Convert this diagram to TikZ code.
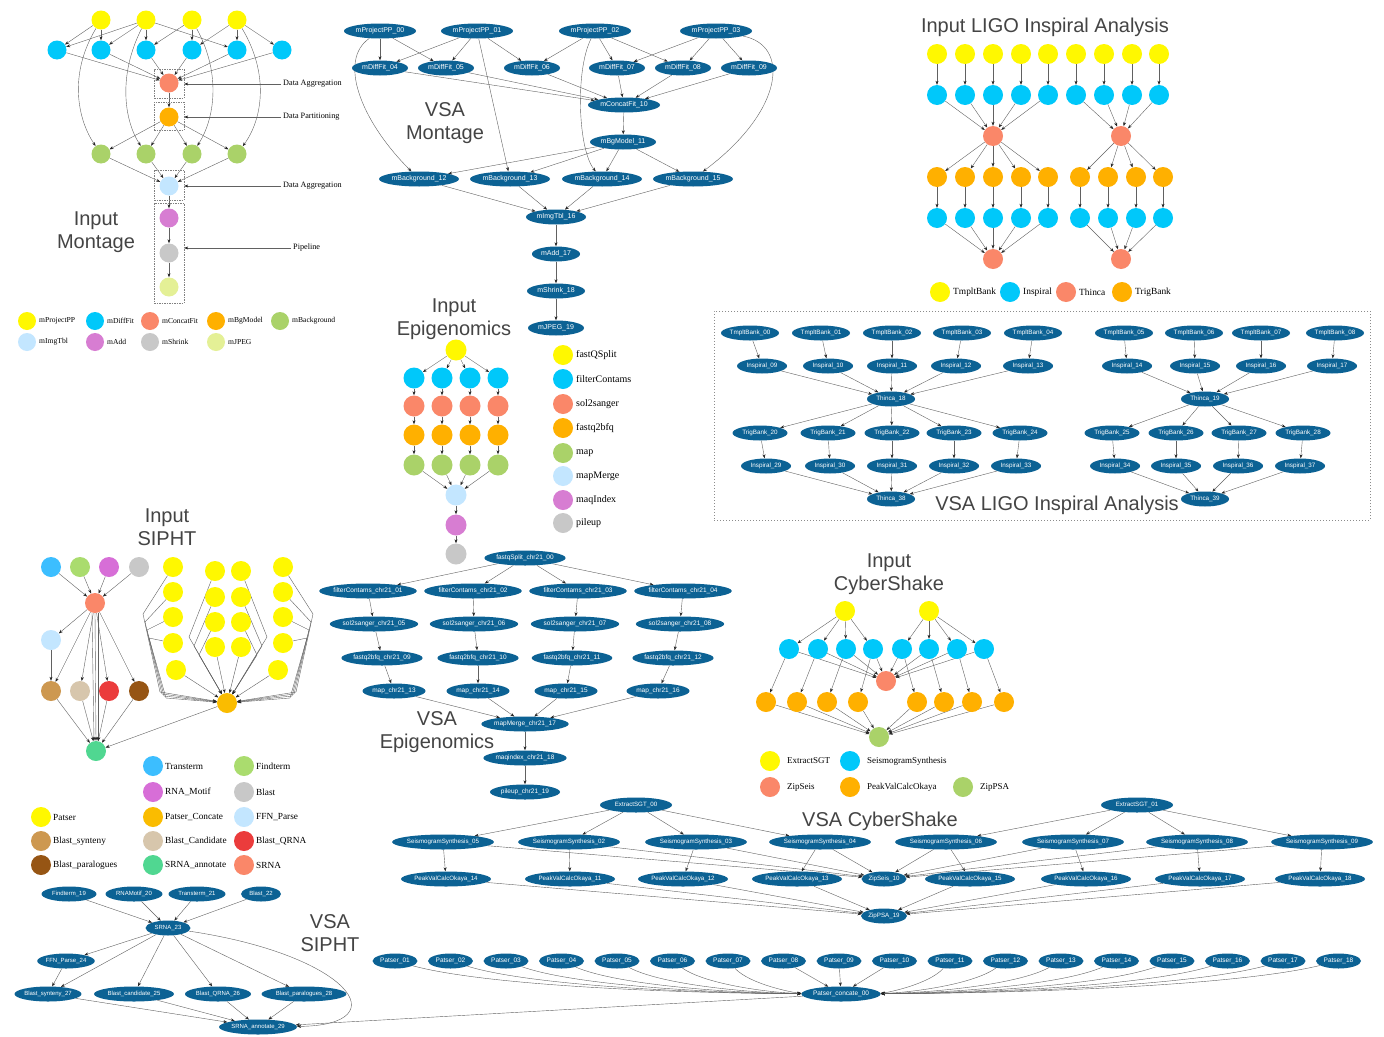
\documentclass[tikz,border=0pt]{standalone}
\usepackage{fontspec}
\setmainfont{Liberation Serif}
\setsansfont{Liberation Sans}
\usetikzlibrary{shapes.geometric,arrows.meta}
\pgfdeclarelayer{paper}
\pgfdeclarelayer{edges}
\pgfsetlayers{paper,edges,main}

% task colours
\definecolor{vsa}{RGB}{12,98,148}
\definecolor{cyel}{RGB}{255,248,0}
\definecolor{ccya}{RGB}{0,200,250}
\definecolor{csal}{RGB}{250,135,105}
\definecolor{cora}{RGB}{255,176,0}
\definecolor{cgrn}{RGB}{170,210,105}
\definecolor{clbl}{RGB}{195,230,255}
\definecolor{cmag}{RGB}{215,125,210}
\definecolor{cgry}{RGB}{200,200,200}
\definecolor{cjpg}{RGB}{228,240,150}
% SIPHT colours
\definecolor{sTr}{RGB}{60,190,255}
\definecolor{sFi}{RGB}{170,220,110}
\definecolor{sRm}{RGB}{215,110,215}
\definecolor{sBl}{RGB}{200,200,200}
\definecolor{sPc}{RGB}{250,188,0}
\definecolor{sFf}{RGB}{195,230,255}
\definecolor{sBs}{RGB}{205,152,80}
\definecolor{sBc}{RGB}{215,198,172}
\definecolor{sBq}{RGB}{235,60,60}
\definecolor{sBp}{RGB}{150,85,20}
\definecolor{sSa}{RGB}{80,215,145}
\definecolor{sSr}{RGB}{250,135,105}
\definecolor{ttlgray}{RGB}{68,68,68}

\tikzset{
  ball/.style={circle,inner sep=0pt,minimum size=#1},
  job/.style={ellipse,fill=vsa,text=white,inner sep=0pt,minimum height=15pt,
              font=\sffamily\fontsize{6.5}{6.5}\selectfont},
  jm/.style={job,font=\sffamily\fontsize{7}{7}\selectfont},
  jl/.style={job,font=\sffamily\fontsize{6.3}{6.3}\selectfont},
  jc/.style={job,font=\sffamily\fontsize{6.2}{6.2}\selectfont},
  js/.style={job,font=\sffamily\fontsize{6}{6}\selectfont},
  ed/.style={draw=black!62,line width=0.4pt,-{Stealth[length=4pt,width=3pt,color=black!85]}},
  lg/.style={anchor=west,inner sep=0pt,font=\fontsize{#1}{#1}\selectfont},
  ttl/.style={align=center,text=ttlgray,inner sep=0pt,font=\sffamily\fontsize{20}{23}\selectfont},
  dbox/.style={draw=black!50,dash pattern=on 1.5pt off 1pt,line width=0.4pt,inner sep=0pt,minimum width=30pt},
}

\begin{document}
\begin{tikzpicture}[x=1pt,y=-1pt]
\useasboundingbox (0,0) rectangle (1384,1036);
\begin{pgfonlayer}{paper}
  \fill[white] (0,0) rectangle (1384,1036);
\end{pgfonlayer}

% ================= Input Montage =================
\foreach \x [count=\i] in {101,146,192,237} \node[ball=19pt,fill=cyel] (imy\i) at (\x,20) {};
\foreach \x [count=\i] in {57,101,146,192,237,282} \node[ball=19pt,fill=ccya] (imc\i) at (\x,50) {};
\node[ball=19pt,fill=csal] (ims) at (169,83) {};
\node[ball=19pt,fill=cora] (imo) at (169,117) {};
\foreach \x [count=\i] in {101,146,192,237} \node[ball=19pt,fill=cgrn] (img\i) at (\x,154) {};
\node[ball=19pt,fill=clbl] (iml) at (169,186) {};
\node[ball=19pt,fill=cmag] (imm) at (169,218) {};
\node[ball=19pt,fill=cgry] (imr) at (169,253) {};
\node[ball=19pt,fill=cjpg] (imj) at (169,287) {};
\node[dbox,minimum height=29pt] (bx1) at (169,83.5) {};
\node[dbox,minimum height=28pt] (bx2) at (169,116) {};
\node[dbox,minimum height=30pt] (bx3) at (169,185) {};
\node[dbox,minimum height=100pt] (bx4) at (169,253) {};
\node[lg=8.2] (an1) at (283,84) {Data Aggregation};
\node[lg=8.2] (an2) at (283,117) {Data Partitioning};
\node[lg=8.2] (an3) at (283,186) {Data Aggregation};
\node[lg=8.2] (an4) at (293,248) {Pipeline};
\node[ttl] (imt) at (96,232) {Input\\Montage};
\foreach \c/\x/\y/\lab [count=\i] in {cyel/27/321/mProjectPP,ccya/95/321/mDiffFit,csal/150/321/mConcatFit,
    cora/216/321/mBgModel,cgrn/280/321/mBackground,clbl/27/342/mImgTbl,cmag/95/342/mAdd,
    cgry/150/342/mShrink,cjpg/216/342/mJPEG}
  {\node[ball=18pt,fill=\c] (imk\i) at (\x,\y) {};
   \node[lg=7.6] (imkt\i) at (\x+12,\y) {\lab};}
\begin{pgfonlayer}{edges}
  \foreach \a/\b in {1/1,1/2,2/1,2/2,2/3,2/5,3/3,3/4,4/4,4/5,4/6} \draw[ed] (imy\a) -- (imc\b);
  \foreach \b in {1,...,6} \draw[ed] (imc\b) -- (ims);
  \draw[ed] (ims) -- (imo);
  \foreach \b in {1,...,4} {\draw[ed] (imo) -- (img\b); \draw[ed] (img\b) -- (iml);}
  \draw[ed] (iml) -- (imm);
  \draw[ed] (imm) -- (imr);
  \draw[ed] (imr) -- (imj);
  \draw[ed] (imy1) .. controls (68,75) and (78,120) .. (img1);
  \draw[ed] (imy2) .. controls (118,75) and (124,120) .. (img2);
  \draw[ed] (imy3) .. controls (222,75) and (214,120) .. (img3);
  \draw[ed] (imy4) .. controls (270,75) and (262,120) .. (img4);
  \draw[ed] ([xshift=-2pt]an1.west) -- (an1.west -| bx1.east);
  \draw[ed] ([xshift=-2pt]an2.west) -- (an2.west -| bx2.east);
  \draw[ed] ([xshift=-2pt]an3.west) -- (an3.west -| bx3.east);
  \draw[ed] ([xshift=-2pt]an4.west) -- (an4.west -| bx4.east);
\end{pgfonlayer}

% ================= VSA Montage =================
\node[jm,minimum width=72pt] (pp0) at (380,31) {mProjectPP\_00};
\node[jm,minimum width=72pt] (pp1) at (477,31) {mProjectPP\_01};
\node[jm,minimum width=72pt] (pp2) at (595,31) {mProjectPP\_02};
\node[jm,minimum width=72pt] (pp3) at (716,31) {mProjectPP\_03};
\foreach \x/\n in {380/4,446/5,532/6,617/7,683/8,749/9}
  \node[jm,minimum width=56pt] (df\n) at (\x,68) {mDiffFit\_0\n};
\node[jm,minimum width=72pt] (cf) at (624,105) {mConcatFit\_10};
\node[jm,minimum width=66pt] (bg) at (623,142) {mBgModel\_11};
\foreach \x/\n in {419/12,510/13,602/14,693/15}
  \node[jm,minimum width=80pt] (bk\n) at (\x,179) {mBackground\_\n};
\node[jm,minimum width=60pt] (it) at (556,217) {mImgTbl\_16};
\node[jm,minimum width=48pt] (ad) at (556,254) {mAdd\_17};
\node[jm,minimum width=58pt] (sh) at (556,291) {mShrink\_18};
\node[jm,minimum width=56pt] (jp) at (556,328) {mJPEG\_19};
\node[ttl] (vmt) at (445,123) {VSA\\Montage};
\begin{pgfonlayer}{edges}
  \foreach \a/\b in {0/4,0/5,1/4,1/5,1/6,2/6,2/7,2/8,3/7,3/8,3/9} \draw[ed] (pp\a) -- (df\b);
  \foreach \b in {4,...,9} \draw[ed] (df\b) -- (cf);
  \draw[ed] (cf) -- (bg);
  \foreach \b in {12,...,15} {\draw[ed] (bg) -- (bk\b); \draw[ed] (bk\b) -- (it);}
  \draw[ed] (it) -- (ad);
  \draw[ed] (ad) -- (sh);
  \draw[ed] (sh) -- (jp);
  \draw[ed] (pp0) .. controls (338,60) and (360,120) .. (bk12);
  \draw[ed] (pp1) -- (bk13);
  \draw[ed] (pp2) .. controls (575,70) and (578,150) .. (bk14);
  \draw[ed] (pp3) .. controls (790,45) and (785,110) .. (bk15);
\end{pgfonlayer}

% ================= Input LIGO =================
\node[ttl] (lti) at (1045,27) {Input LIGO Inspiral Analysis};
\foreach \x [count=\i] in {937,965,993,1021,1048,1076,1104,1132,1159}
  {\node[ball=20pt,fill=cyel] (ly\i) at (\x,54) {};
   \node[ball=20pt,fill=ccya] (lc\i) at (\x,95) {};}
\node[ball=20pt,fill=csal] (lt1) at (993,136) {};
\node[ball=20pt,fill=csal] (lt2) at (1121,136) {};
\foreach \x [count=\i] in {937,965,993,1021,1048,1080,1108,1136,1163}
  {\node[ball=20pt,fill=cora] (lo\i) at (\x,177) {};
   \node[ball=20pt,fill=ccya] (ld\i) at (\x,218) {};}
\node[ball=20pt,fill=csal] (lt3) at (993,259) {};
\node[ball=20pt,fill=csal] (lt4) at (1121,259) {};
\foreach \c/\x/\lab [count=\i] in {cyel/940/TmpltBank,ccya/1010/Inspiral,csal/1066/Thinca,cora/1122/TrigBank}
  {\node[ball=20pt,fill=\c] (lk\i) at (\x,292) {};
   \node[lg=9.4] (lkt\i) at (\x+13,292) {\lab};}
\begin{pgfonlayer}{edges}
  \foreach \i in {1,...,9} {\draw[ed] (ly\i) -- (lc\i); \draw[ed] (lo\i) -- (ld\i);}
  \foreach \i in {1,...,5} {\draw[ed] (lc\i) -- (lt1); \draw[ed] (lt1) -- (lo\i); \draw[ed] (ld\i) -- (lt3);}
  \foreach \i in {6,...,9} {\draw[ed] (lc\i) -- (lt2); \draw[ed] (lt2) -- (lo\i); \draw[ed] (ld\i) -- (lt4);}
\end{pgfonlayer}

% ================= VSA LIGO =================
\node[draw=black!45,dash pattern=on 1.2pt off 1.8pt,line width=0.5pt,inner sep=0pt,
      minimum width=656pt,minimum height=209pt] (lbox) at (1042,415.5) {};
\foreach \x/\lab [count=\i] in {750/00,821/01,892/02,962/03,1033/04,1124/05,1194/06,1261/07,1335/08}
  \node[jl,minimum width=58pt] (tb\i) at (\x,333) {TmpltBank\_\lab};
\foreach \x/\lab [count=\i] in {762/09,828/10,892/11,956/12,1028/13,1127/14,1195/15,1261/16,1332/17}
  \node[jl,minimum width=50pt] (li\i) at (\x,366) {Inspiral\_\lab};
\node[jl,minimum width=48pt] (th18) at (891,399) {Thinca\_18};
\node[jl,minimum width=48pt] (th19) at (1205,399) {Thinca\_19};
\foreach \x/\lab [count=\i] in {760/20,828/21,892/22,954/23,1020/24,1112/25,1176/26,1239/27,1303/28}
  \node[jl,minimum width=55pt] (tg\i) at (\x,433) {TrigBank\_\lab};
\foreach \x/\lab [count=\i] in {766/29,830/30,892/31,954/32,1016/33,1115/34,1176/35,1238/36,1300/37}
  \node[jl,minimum width=50pt] (lj\i) at (\x,466) {Inspiral\_\lab};
\node[jl,minimum width=48pt] (th38) at (891,499) {Thinca\_38};
\node[jl,minimum width=48pt] (th39) at (1205,499) {Thinca\_39};
\node[ttl] (vlt) at (1057,505) {VSA LIGO Inspiral Analysis};
\begin{pgfonlayer}{edges}
  \foreach \i in {1,...,9} {\draw[ed] (tb\i) -- (li\i); \draw[ed] (tg\i) -- (lj\i);}
  \foreach \i in {1,...,5} {\draw[ed] (li\i) -- (th18); \draw[ed] (th18) -- (tg\i); \draw[ed] (lj\i) -- (th38);}
  \foreach \i in {6,...,9} {\draw[ed] (li\i) -- (th19); \draw[ed] (th19) -- (tg\i); \draw[ed] (lj\i) -- (th39);}
\end{pgfonlayer}

% ================= Input Epigenomics =================
\node[ttl] (eti) at (454,319) {Input\\Epigenomics};
\node[ball=21pt,fill=cyel] (ey) at (456,350) {};
\node[ball=21pt,fill=clbl] (el) at (456,495) {};
\node[ball=21pt,fill=cmag] (em) at (456,525) {};
\node[ball=21pt,fill=cgry] (er) at (456,554) {};
\foreach \x [count=\i] in {414,442,470,498}
  {\node[ball=21pt,fill=ccya] (ec\i) at (\x,378) {};
   \node[ball=21pt,fill=csal] (es\i) at (\x,406) {};
   \node[ball=21pt,fill=cora] (eo\i) at (\x,435) {};
   \node[ball=21pt,fill=cgrn] (eg\i) at (\x,465) {};}
\foreach \c/\y/\lab [count=\i] in {cyel/355/fastQSplit,ccya/379/filterContams,csal/404/sol2sanger,
    cora/428/fastq2bfq,cgrn/453/map,clbl/476/mapMerge,cmag/500/maqIndex,cgry/523/pileup}
  {\node[ball=20pt,fill=\c] (ek\i) at (563,\y) {};
   \node[lg=10] (ekt\i) at (576,\y) {\lab};}
\begin{pgfonlayer}{edges}
  \foreach \i in {1,...,4}
    {\draw[ed] (ey) -- (ec\i); \draw[ed] (ec\i) -- (es\i); \draw[ed] (es\i) -- (eo\i);
     \draw[ed] (eo\i) -- (eg\i); \draw[ed] (eg\i) -- (el);}
  \draw[ed] (el) -- (em);
  \draw[ed] (em) -- (er);
\end{pgfonlayer}

% ================= VSA Epigenomics =================
\node[job,minimum width=80pt] (fq) at (525,558) {fastqSplit\_chr21\_00};
\foreach \x/\lab [count=\i] in {368/01,473/02,578/03,683/04}
  \node[job,minimum width=96pt] (ef\i) at (\x,591) {filterContams\_chr21\_\lab};
\foreach \x/\lab [count=\i] in {374/05,474/06,575/07,680/08}
  \node[job,minimum width=88pt] (ez\i) at (\x,624) {sol2sanger\_chr21\_\lab};
\foreach \x/\lab [count=\i] in {382/09,478/10,572/11,673/12}
  \node[job,minimum width=80pt] (eb\i) at (\x,658) {fastq2bfq\_chr21\_\lab};
\foreach \x/\lab [count=\i] in {394/13,478/14,566/15,658/16}
  \node[job,minimum width=63pt] (ep\i) at (\x,691) {map\_chr21\_\lab};
\node[job,minimum width=86pt] (mm) at (525,724) {mapMerge\_chr21\_17};
\node[job,minimum width=83pt] (mq) at (525,758) {maqindex\_chr21\_18};
\node[job,minimum width=70pt] (pu) at (525,792) {pileup\_chr21\_19};
\node[ttl] (vet) at (437,732) {VSA\\Epigenomics};
\begin{pgfonlayer}{edges}
  \foreach \i in {1,...,4}
    {\draw[ed] (fq) -- (ef\i); \draw[ed] (ef\i) -- (ez\i); \draw[ed] (ez\i) -- (eb\i);
     \draw[ed] (eb\i) -- (ep\i); \draw[ed] (ep\i) -- (mm);}
  \draw[ed] (mm) -- (mq);
  \draw[ed] (mq) -- (pu);
\end{pgfonlayer}

% ================= Input SIPHT =================
\node[ttl] (sti) at (167,527) {Input\\SIPHT};
\node[ball=20pt,fill=sTr] (st) at (51,567) {};
\node[ball=20pt,fill=sFi] (sf) at (80,567) {};
\node[ball=20pt,fill=sRm] (sm) at (109,567) {};
\node[ball=20pt,fill=sBl] (sb) at (139,567) {};
\node[ball=20pt,fill=sSr] (ss) at (95,603) {};
\node[ball=20pt,fill=sFf] (sp) at (51,640) {};
\node[ball=20pt,fill=sBs] (sy) at (51,691) {};
\node[ball=20pt,fill=sBc] (sc) at (80,691) {};
\node[ball=20pt,fill=sBq] (sq) at (109,691) {};
\node[ball=20pt,fill=sBp] (sg) at (139,691) {};
\node[ball=20pt,fill=sSa] (sa) at (96,751) {};
\node[ball=20pt,fill=sPc] (spc) at (227,703) {};
\foreach \y [count=\i] in {567,592,617,643}
  {\node[ball=20pt,fill=cyel] (pA\i) at (173,\y) {};
   \node[ball=20pt,fill=cyel] (pD\i) at (283,\y) {};}
\node[ball=20pt,fill=cyel] (pA5) at (176,670) {};
\node[ball=20pt,fill=cyel] (pD5) at (278,670) {};
\foreach \y [count=\i] in {571,597,622,647}
  {\node[ball=20pt,fill=cyel] (pB\i) at (215,\y) {};
   \node[ball=20pt,fill=cyel] (pC\i) at (241,\y) {};}
% SIPHT legend
\foreach \c/\x/\y/\lab [count=\i] in {cyel/41/817/Patser,sBs/41/841/Blast\_synteny,sBp/41/865/Blast\_paralogues,
    sTr/153/766/Transterm,sRm/153/792/RNA\_Motif,sPc/153/817/Patser\_Concate,sBc/153/841/Blast\_Candidate,
    sSa/153/865/SRNA\_annotate,sFi/244/766/Findterm,sBl/244/792/Blast,sFf/244/817/FFN\_Parse,
    sBq/244/841/Blast\_QRNA,sSr/244/865/SRNA}
  {\node[ball=20pt,fill=\c] (sk\i) at (\x,\y) {};
   \node[lg=9.3] (skt\i) at (\x+12,\y) {\lab};}
\begin{pgfonlayer}{edges}
  \foreach \n in {st,sf,sm,sb} \draw[ed] (\n) -- (ss);
  \foreach \n in {sp,sy,sc,sq,sg} \draw[ed] (ss) -- (\n);
  \draw[ed] (sp) -- (sy);
  \foreach \n in {sy,sc,sq,sg,spc} \draw[ed] (\n) -- (sa);
  \draw[ed] ([xshift=-3pt]ss.south) -- ([xshift=-2pt]sa.north);
  \draw[ed] (ss.south) -- (sa.north);
  \draw[ed] ([xshift=3pt]ss.south) -- ([xshift=2pt]sa.north);
  \foreach \k in {1,...,4}
    {\draw[ed] (pA\k) -- ({141+2*\k},{606+8*\k}) -- ({158+2*\k},{690+2*\k}) -- (spc);
     \draw[ed] (pD\k) -- ({315-2*\k},{606+8*\k}) -- ({298-2*\k},{690+2*\k}) -- (spc);}
  \foreach \k in {1,2,3}
    {\draw[ed] (pB\k) -- ({184+5*\k},{628+9*\k}) -- (spc);
     \draw[ed] (pC\k) -- ({272-5*\k},{628+9*\k}) -- (spc);}
  \foreach \n in {pA5,pB4,pC4,pD5} \draw[ed] (\n) -- (spc);
\end{pgfonlayer}

% ================= VSA SIPHT =================
\node[js,minimum width=55pt] (vf) at (69,894) {Findterm\_19};
\node[js,minimum width=57pt] (vr) at (134,894) {RNAMotif\_20};
\node[js,minimum width=57pt] (vt) at (197,894) {Transterm\_21};
\node[js,minimum width=40pt] (vb) at (261,894) {Blast\_22};
\node[js,minimum width=45pt] (vs) at (168,928) {SRNA\_23};
\node[js,minimum width=56pt] (vp) at (66,961) {FFN\_Parse\_24};
\node[js,minimum width=64pt] (vy) at (48,994) {Blast\_synteny\_27};
\node[js,minimum width=80pt] (vc) at (134,994) {Blast\_candidate\_25};
\node[js,minimum width=66pt] (vq) at (218,994) {Blast\_QRNA\_26};
\node[js,minimum width=85pt] (vg) at (304,994) {Blast\_paralogues\_28};
\node[js,minimum width=78pt] (va) at (258,1027) {SRNA\_annotate\_29};
\node[ttl] (vst) at (330,933) {VSA\\SIPHT};

% ================= Input CyberShake =================
\node[ttl] (cti) at (889,574) {Input\\CyberShake};
\node[ball=20pt,fill=cyel] (cy1) at (845,611) {};
\node[ball=20pt,fill=cyel] (cy2) at (929,611) {};
\foreach \x [count=\i] in {789,818,846,873,902,929,957,984}
  \node[ball=20pt,fill=ccya] (cc\i) at (\x,649) {};
\node[ball=20pt,fill=csal] (czs) at (886,681) {};
\foreach \x [count=\i] in {766,797,827,858,917,944,972,1004}
  \node[ball=20pt,fill=cora] (co\i) at (\x,702) {};
\node[ball=20pt,fill=cgrn] (czp) at (879,737) {};
\foreach \c/\x/\y/\lab [count=\i] in {cyel/770/761/ExtractSGT,ccya/850/761/SeismogramSynthesis,
    csal/770/787/ZipSeis,cora/850/787/PeakValCalcOkaya,cgrn/963/787/ZipPSA}
  {\node[ball=20pt,fill=\c] (ck\i) at (\x,\y) {};
   \node[lg=9] (ckt\i) at (\x+17,\y) {\lab};}
\begin{pgfonlayer}{edges}
  \foreach \i in {1,...,4} \draw[ed] (cy1) -- (cc\i);
  \foreach \i in {5,...,8} \draw[ed] (cy2) -- (cc\i);
  \foreach \i in {1,...,8} {\draw[ed] (cc\i) -- (czs); \draw[ed] (cc\i) -- (co\i); \draw[ed] (co\i) -- (czp);}
\end{pgfonlayer}

% ================= VSA CyberShake =================
\node[jc,minimum width=72pt] (kx0) at (636,805) {ExtractSGT\_00};
\node[jc,minimum width=72pt] (kx1) at (1137,805) {ExtractSGT\_01};
\foreach \x/\lab [count=\i] in {443/05,569/02,696/03,820/04,946/06,1073/07,1197/08,1322/09}
  \node[jc,minimum width=100pt] (ks\i) at (\x,842) {SeismogramSynthesis\_\lab};
\foreach \x/\lab [count=\i] in {446/14,570/11,683/12,797/13,970/15,1086/16,1200/17,1320/18}
  \node[jc,minimum width=90pt] (kp\i) at (\x,879) {PeakValCalcOkaya\_\lab};
\node[jc,minimum width=45pt] (kz) at (884,879) {ZipSeis\_10};
\node[jc,minimum width=46pt] (kq) at (884,916) {ZipPSA\_19};
\node[ttl] (vct) at (880,821) {VSA CyberShake};
\begin{pgfonlayer}{edges}
  \foreach \i in {1,...,4} \draw[ed] (kx0) -- (ks\i);
  \foreach \i in {5,...,8} \draw[ed] (kx1) -- (ks\i);
  \foreach \i in {1,...,8} {\draw[ed] (ks\i) -- (kz); \draw[ed] (ks\i) -- (kp\i); \draw[ed] (kp\i) -- (kq);}
\end{pgfonlayer}

% ================= Patser row =================
\foreach \lab [count=\i] in {01,02,03,04,05,06,07,08,09,10,11,12,13,14,15,16,17,18}
  \node[job,minimum width=45pt] (pt\i) at ({339.5+55.5*\i},961) {Patser\_\lab};
\node[job,minimum width=79pt] (pcc) at (841,994) {Patser\_concate\_00};

\begin{pgfonlayer}{edges}
  % VSA SIPHT edges
  \foreach \n in {vf,vr,vt,vb} \draw[ed] (\n) -- (vs);
  \foreach \n in {vp,vy,vc,vq,vg} \draw[ed] (vs) -- (\n);
  \draw[ed] (vp) -- (vy);
  \foreach \n in {vy,vc,vq,vg} \draw[ed] (\n) -- (va);
  \draw[ed] (vs) .. controls (350,955) and (400,1025) .. (va);
  \draw[ed] (pcc) -- (va);
  % Patser fan-in
  \foreach \i in {1,...,7}
    {\pgfmathsetmacro\pxa{339.5+55.5*\i}
     \pgfmathsetmacro\cxa{\pxa+0.2*(841-\pxa)}
     \pgfmathsetmacro\cxb{\pxa+0.6*(841-\pxa)}
     \draw[ed] (pt\i) .. controls (\cxa,985) and (\cxb,993) .. (pcc);}
  \foreach \i in {8,9,10} \draw[ed] (pt\i) -- (pcc);
  \foreach \i in {11,...,18}
    {\pgfmathsetmacro\pxa{339.5+55.5*\i}
     \pgfmathsetmacro\cxa{\pxa-0.2*(\pxa-841)}
     \pgfmathsetmacro\cxb{\pxa-0.6*(\pxa-841)}
     \draw[ed] (pt\i) .. controls (\cxa,985) and (\cxb,993) .. (pcc);}
\end{pgfonlayer}
\end{tikzpicture}
\end{document}
